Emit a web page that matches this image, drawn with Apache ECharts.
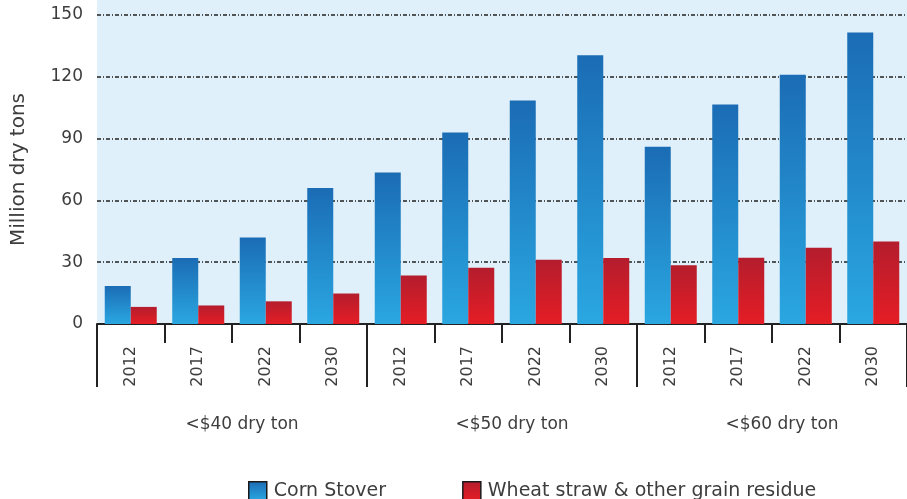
<!DOCTYPE html>
<html>
<head>
<meta charset="utf-8">
<script src="https://cdn.jsdelivr.net/npm/echarts@6/dist/echarts.min.js"></script>
<style>
  html, body { margin: 0; padding: 0; background: #fff; }
  #chart { width: 907px; height: 499px; }
</style>
</head>
<body>
<div id="chart"></div>
<script>
// data
var groups = ['<$40 dry ton', '<$50 dry ton', '<$60 dry ton'];
var years = ['2012', '2017', '2022', '2030'];
var cornStover = [18.5, 32, 42, 66, 73.5, 93, 108.5, 130.5, 86, 106.5, 121, 141.5];
var wheatStraw = [8.3, 9, 11, 14.8, 23.5, 27.3, 31.2, 32, 28.5, 32.2, 37, 40];
var yTicks = [0, 30, 60, 90, 120, 150];

var textColor = '#3d3d3d';
var fontName = 'DejaVu Sans';

// one category per group/year pair
var cats = [];
groups.forEach(function (g) {
    years.forEach(function (y) {
        cats.push(g + '|' + y);
    });
});

function grad(top, bottom) {
    return new echarts.graphic.LinearGradient(0, 0, 0, 1, [
        { offset: 0, color: top },
        { offset: 1, color: bottom }
    ]);
}

var chart = echarts.init(document.getElementById('chart'));

var option = {
    animation: false,
    textStyle: { fontFamily: fontName },
    grid: {
        left: 97,
        right: -5,
        top: 15,
        bottom: 175,
        show: true,
        backgroundColor: '#dff0fa',
        borderWidth: 0
    },
    graphic: [{
        // plot background continues above the 150 line
        type: 'rect',
        left: 97,
        top: 0,
        shape: { width: 815, height: 15 },
        style: { fill: '#dff0fa' },
        z: -1
    }],
    legend: {
        left: 243,
        top: 476,
        icon: 'rect',
        itemWidth: 18,
        itemHeight: 18,
        itemGap: 76,
        itemStyle: { borderColor: '#1a1a1a', borderWidth: 1.5 },
        textStyle: { fontSize: 19, color: textColor, fontFamily: fontName, padding: [0, 0, 0, 2] },
        data: ['Corn Stover', 'Wheat straw & other grain residue']
    },
    xAxis: [{
        type: 'category',
        position: 'bottom',
        data: cats,
        axisLine: { lineStyle: { color: '#222', width: 2 } },
        axisTick: { show: true, interval: 0, length: 19, lineStyle: { color: '#222', width: 2 } },
        axisLabel: {
            interval: 0,
            rotate: 90,
            margin: 22,
            fontSize: 16,
            color: textColor,
            fontFamily: fontName,
            formatter: function (v) { return v.split('|')[1]; }
        },
        splitLine: { show: false }
    }, {
        type: 'category',
        position: 'bottom',
        data: groups,
        axisLine: { show: false },
        axisTick: { show: true, interval: 0, length: 63, lineStyle: { color: '#222', width: 2 } },
        axisLabel: {
            interval: 0,
            margin: 92,
            fontSize: 17,
            color: textColor,
            fontFamily: fontName,
            padding: [0, 0, 0, 20]
        },
        splitLine: { show: false }
    }],
    yAxis: {
        type: 'value',
        min: yTicks[0],
        max: yTicks[yTicks.length - 1],
        interval: 30,
        name: 'Million dry tons',
        nameLocation: 'middle',
        nameGap: 68,
        nameTextStyle: { fontSize: 20, color: textColor, fontFamily: fontName },
        axisLine: { show: false },
        axisTick: { show: false },
        axisLabel: { margin: 14, fontSize: 17, color: textColor, fontFamily: fontName },
        splitLine: { lineStyle: { color: '#222', width: 1.5, type: [4, 2, 1, 2] } }
    },
    series: [{
        name: 'Corn Stover',
        type: 'bar',
        xAxisIndex: 0,
        barWidth: 26,
        barGap: '0%',
        data: cornStover,
        itemStyle: { color: grad('#1b6cb4', '#2aa7e1') }
    }, {
        name: 'Wheat straw & other grain residue',
        type: 'bar',
        xAxisIndex: 0,
        barWidth: 26,
        barGap: '0%',
        data: wheatStraw,
        itemStyle: { color: grad('#b41d2d', '#e51d25') }
    }]
};

chart.setOption(option);
</script>
</body>
</html>
